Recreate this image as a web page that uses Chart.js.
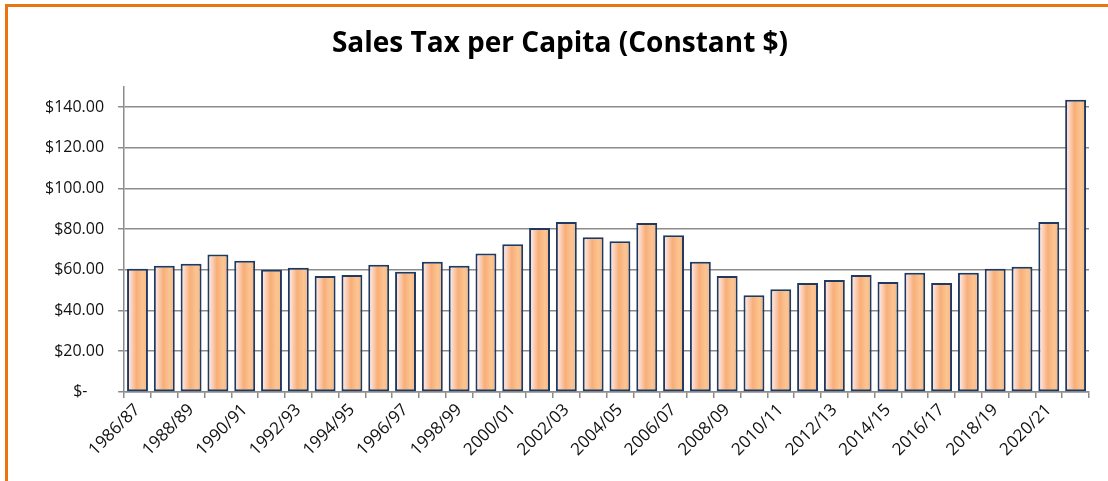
<!DOCTYPE html>
<html>
<head>
<meta charset="utf-8">
<script src="https://cdn.jsdelivr.net/npm/chart.js@4.4.0/dist/chart.umd.min.js"></script>
<style>
  html, body { margin: 0; padding: 0; background: #fff; }
  #wrap { position: relative; width: 1108px; height: 481px; overflow: hidden; }
  #frame { position: absolute; left: 5px; top: 4px; right: -10px; bottom: -10px;
           border-top: 3px solid #E8750F; border-left: 3px solid #E8750F; pointer-events: none; }
  canvas { position: absolute; left: 0; top: 0; }
</style>
</head>
<body>
<div id="wrap">
  <canvas id="salesChart" width="1108" height="481"></canvas>
  <div id="frame"></div>
</div>
<script>
// fiscal years, one bar each
const years = [
  "1986/87", "1987/88", "1988/89", "1989/90", "1990/91", "1991/92", "1992/93", "1993/94",
  "1994/95", "1995/96", "1996/97", "1997/98", "1998/99", "1999/00", "2000/01", "2001/02",
  "2002/03", "2003/04", "2004/05", "2005/06", "2006/07", "2007/08", "2008/09", "2009/10",
  "2010/11", "2011/12", "2012/13", "2013/14", "2014/15", "2015/16", "2016/17", "2017/18",
  "2018/19", "2019/20", "2020/21", "2021/22"
];

// sales tax per capita, constant dollars
const salesTax = [
  60.5, 62, 63, 67.5, 64.5, 60, 61, 57,
  57.5, 62.5, 59, 64, 62, 68, 72.5, 80.5,
  83.5, 76, 74, 83, 77, 64, 57, 47.5,
  50.5, 53.5, 55, 57.5, 54, 58.5, 53.5, 58.5,
  60.5, 61.5, 83.5, 143.5
];

// y axis ticks
const yTicks = [0, 20, 40, 60, 80, 100, 120, 140];

const fontFamily = "'Open Sans', 'Liberation Sans', sans-serif";
const barPct = 0.78;

// horizontal "tube" gradient across each bar, worked out from the x scale
function barFill(context) {
  const chart = context.chart;
  const xScale = chart.scales.x;
  if (!xScale || context.dataIndex === undefined) return '#F8AE78';
  const cx = xScale.getPixelForValue(context.dataIndex);
  const half = (xScale.width / years.length) * barPct / 2;
  if (!isFinite(cx) || !isFinite(half) || half <= 0) return '#F8AE78';
  const g = chart.ctx.createLinearGradient(cx - half, 0, cx + half, 0);
  g.addColorStop(0, '#FDEDEB');
  g.addColorStop(0.15, '#FCDCD0');
  g.addColorStop(0.45, '#F8AE78');
  g.addColorStop(0.75, '#FBC592');
  g.addColorStop(1, '#F8B481');
  return g;
}

const ctx = document.getElementById('salesChart').getContext('2d');
new Chart(ctx, {
  type: 'bar',
  data: {
    labels: years,
    datasets: [{
      label: 'Sales Tax per Capita',
      data: salesTax,
      backgroundColor: barFill,
      borderColor: '#1F3A60',
      borderWidth: 2,
      borderSkipped: false,
      categoryPercentage: 1,
      barPercentage: barPct
    }]
  },
  options: {
    responsive: false,
    animation: false,
    devicePixelRatio: 1,
    layout: { padding: { left: 31, right: 19, top: 0, bottom: 19 } },
    plugins: {
      legend: { display: false },
      tooltip: { enabled: false },
      title: {
        display: true,
        text: 'Sales Tax per Capita (Constant $)',
        color: '#000',
        font: { family: fontFamily, size: 28, weight: 'bold' },
        padding: { top: 27, bottom: 26 }
      }
    },
    scales: {
      x: {
        offset: true,
        grid: {
          display: true,
          offset: true,
          drawOnChartArea: false,
          drawTicks: true,
          tickLength: 6,
          color: '#8C8C8C',
          lineWidth: 1.5
        },
        border: { display: true, color: '#8C8C8C', width: 1.5 },
        ticks: {
          autoSkip: false,
          maxRotation: 45,
          minRotation: 45,
          color: '#111',
          font: { family: fontFamily, size: 17 },
          padding: 2,
          callback: function (value, index) {
            return index % 2 === 0 ? years[index] : '';
          }
        }
      },
      y: {
        min: 0,
        max: 150,
        afterBuildTicks: axis => {
          axis.ticks = yTicks.map(v => ({ value: v }));
        },
        grid: {
          color: '#8C8C8C',
          lineWidth: 1.5,
          tickLength: 6
        },
        border: { display: true, color: '#8C8C8C', width: 1.5 },
        ticks: {
          color: '#111',
          font: { family: fontFamily, size: 16 },
          padding: 14,
          callback: v => v === 0 ? '$-    ' : '$' + v.toFixed(2)
        }
      }
    }
  }
});
</script>
</body>
</html>
